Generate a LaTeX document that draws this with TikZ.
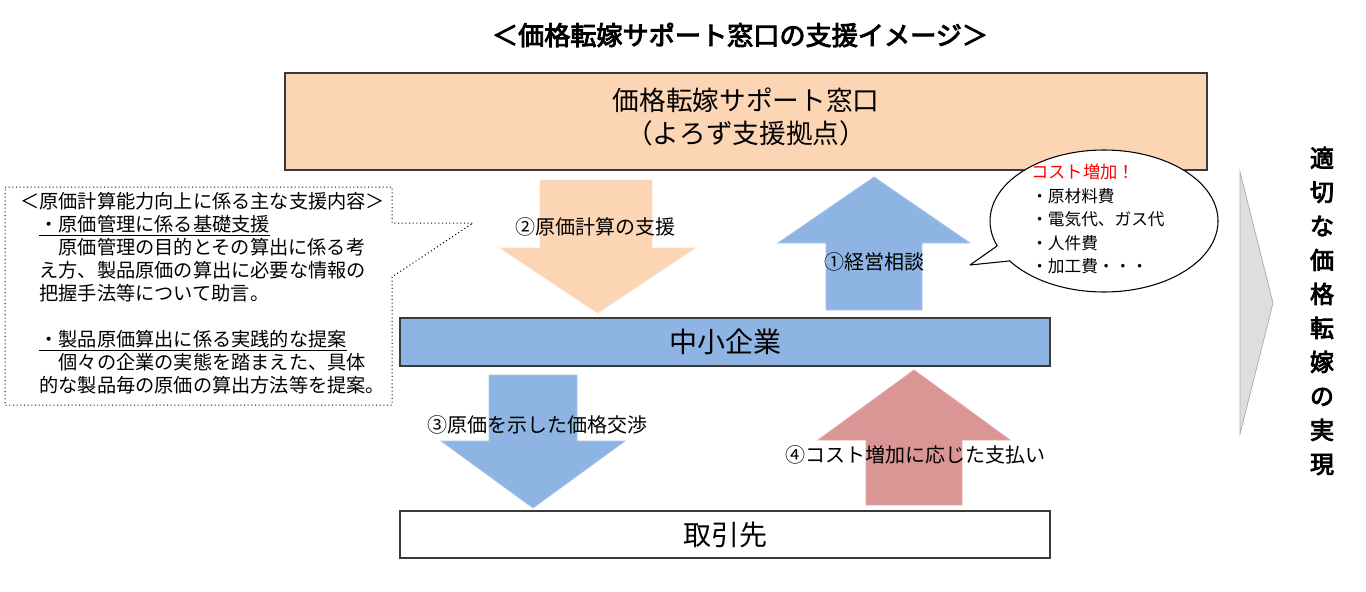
\documentclass[tikz,border=0pt]{standalone}
\usepackage{fontspec}
\setmainfont{Noto Sans CJK JP}
\newfontfamily\jpbold[FakeBold=3.5]{Noto Sans CJK JP}
\usetikzlibrary{fit}
\definecolor{peach}{HTML}{FCD5B5}
\definecolor{lblue}{HTML}{8EB4E3}
\definecolor{rose}{HTML}{D99694}
\definecolor{dgray}{HTML}{3A3A3A}
\definecolor{trifill}{HTML}{DEDEDE}
\definecolor{triline}{HTML}{AFAFAF}
\definecolor{cred}{HTML}{FF0000}
\newcommand\fsz[2]{\fontsize{#1}{#2}\selectfont}
\begin{document}
\begin{tikzpicture}[x=0.75pt,y=-0.75pt,
  bar/.style={draw=dgray, line width=0.9pt, inner sep=0pt},
  blockarrow/.style={fill=#1, draw=#1!80!white, line width=0.6pt},
  lbl/.style={inner sep=0pt, font=\fsz{15pt}{18pt}}]
\useasboundingbox (0,0) rectangle (1366,592);

% title
\node[font=\jpbold\fsz{19.6pt}{24pt}, inner sep=0pt] (title) at (740,35) {＜価格転嫁サポート窓口の支援イメージ＞};

% top box
\node[bar, fill=peach, fit={(285,73) (1207,170)}] (window) {};
\node[font=\fsz{20pt}{24.75pt}, align=center, inner sep=0pt] (windowtext) at (746,117) {価格転嫁サポート窓口\\（よろず支援拠点）};

% middle and bottom bars
\node[bar, fill=lblue, fit={(400,318) (1050,366)}] (sme) {};
\node[font=\fsz{21pt}{25pt}, inner sep=0pt] (smetext) at (sme.center) {中小企業};
\node[bar, fill=white, fit={(400,511) (1050,558)}] (partner) {};
\node[font=\fsz{21pt}{25pt}, inner sep=0pt] (partnertext) at (partner.center) {取引先};

% block arrows
\draw[blockarrow=peach] (540,180) -- (652,180) -- (652,248) -- (695,248) -- (597.5,313) -- (500,248) -- (540,248) -- cycle;
\draw[blockarrow=lblue] (826,310) -- (922,310) -- (922,243) -- (970,243) -- (874,177) -- (778,243) -- (826,243) -- cycle;
\draw[blockarrow=lblue] (489,375) -- (577,375) -- (577,441) -- (625,441) -- (533,508) -- (441,441) -- (489,441) -- cycle;
\draw[blockarrow=rose] (866,505) -- (962,505) -- (962,440) -- (1010,440) -- (914,370) -- (818,440) -- (866,440) -- cycle;

\node[lbl] (l2) at (595,227) {②原価計算の支援};
\node[lbl] (l1) at (874,262) {①経営相談};
\node[lbl] (l3) at (537,425) {③原価を示した価格交渉};
\node[lbl] (l4) at (915,455) {④コスト増加に応じた支払い};

% left callout
\draw[dotted, draw=black, line width=0.75pt] (5,187) -- (392,187) -- (392,223) -- (473,223) -- (392,277) -- (392,405) -- (5,405) -- cycle;
\node[anchor=north west, align=left, inner sep=0pt, font=\fsz{14.4pt}{17.25pt}] (detail) at (20,192.5) {＜原価計算能力向上に係る主な支援内容＞\\
　\underline{・原価管理に係る基礎支援}\\
　　原価管理の目的とその算出に係る考\\
　え方、製品原価の算出に必要な情報の\\
　把握手法等について助言。\\
\mbox{}\\
　\underline{・製品原価算出に係る実践的な提案}\\
　　個々の企業の実態を踏まえた、具体\\
　的な製品毎の原価の算出方法等を提案。};

% speech bubble
\coordinate (bc) at (1104,221);
\draw[fill=white, draw=black, line width=0.8pt] (bc) ellipse [x radius=114, y radius=71];
\coordinate (ta) at (997,246);
\coordinate (tb) at (1009,261);
\coordinate (tip) at (970,265);
\fill[white] (ta) -- (tip) -- (tb) -- (1012,252) -- cycle;
\draw[line width=0.8pt, line join=round] (ta) -- (tip) -- (tb);
\node[anchor=north west, align=left, inner sep=0pt, font=\fsz{12.5pt}{17.6pt}] (costs) at (1031,164) {\textcolor{cred}{\fsz{13pt}{17.6pt}コスト増加！}\\
・原材料費\\
・電気代、ガス代\\
・人件費\\
・加工費・・・};

% right chevron and result
\draw[fill=trifill, draw=triline, line width=0.6pt] (1240,172) -- (1273,303) -- (1240,434) -- cycle;
\node[align=center, inner sep=0pt, font=\jpbold\fsz{18pt}{25.5pt}] (result) at (1322,311) {適\\切\\な\\価\\格\\転\\嫁\\の\\実\\現};
\end{tikzpicture}
\end{document}
